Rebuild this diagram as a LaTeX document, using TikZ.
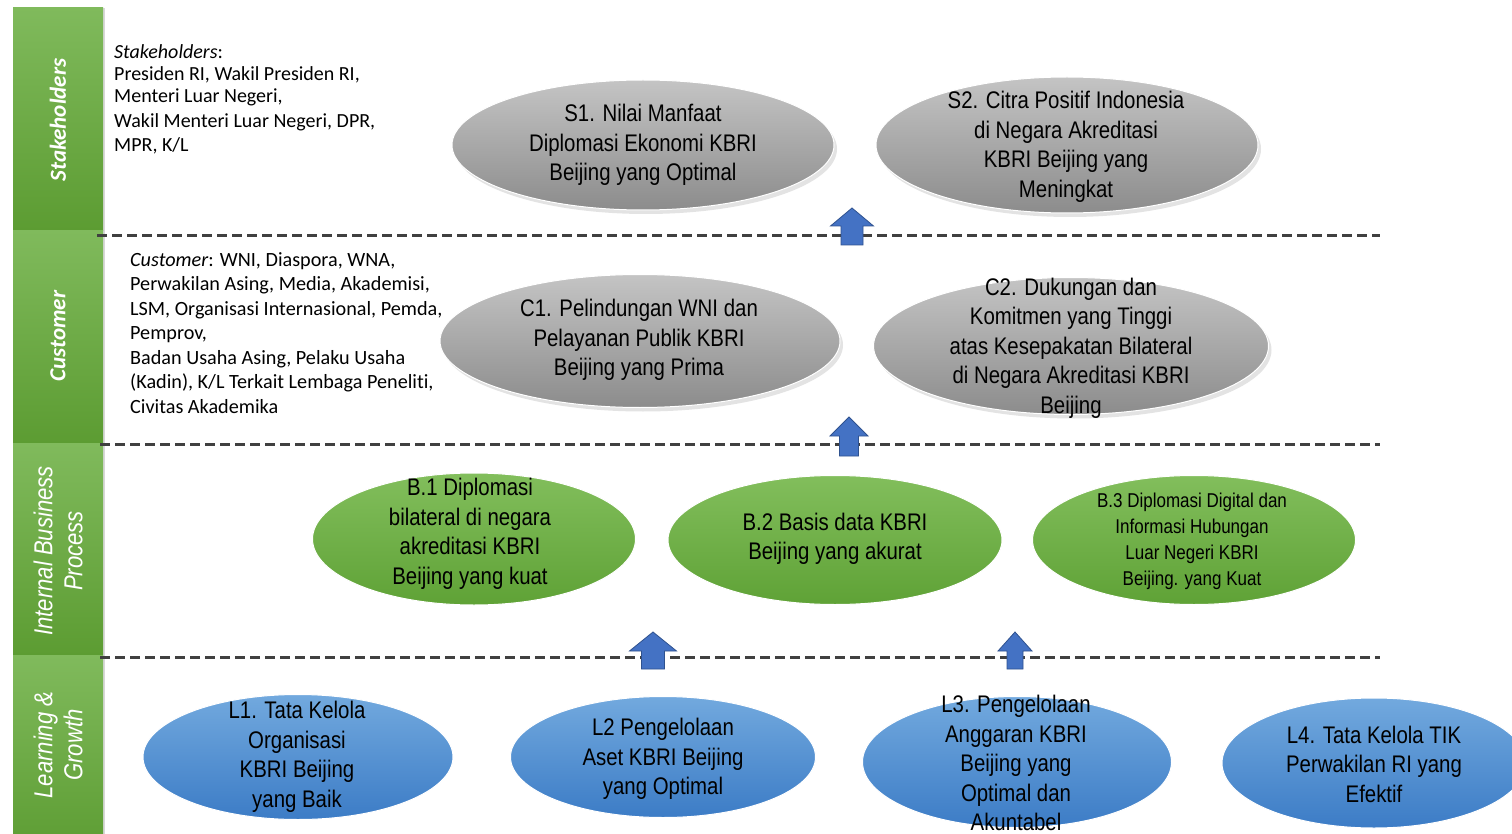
\documentclass[tikz,border=0pt]{standalone}
\usepackage{fontspec}
\setmainfont{Liberation Sans}
\newfontfamily\narrowf[FakeStretch=0.85]{Liberation Sans}
\newfontfamily\calib[Ligatures=NoCommon]{Carlito}
\usetikzlibrary{shapes.geometric,shadows}
\definecolor{bandTop}{HTML}{80BA5C}
\definecolor{bandBot}{HTML}{5C9C32}
\definecolor{grayTop}{HTML}{C4C4C4}
\definecolor{grayBot}{HTML}{8C8C8C}
\definecolor{greenTop}{HTML}{82BE5C}
\definecolor{greenBot}{HTML}{5FA236}
\definecolor{blueTop}{HTML}{72A9DE}
\definecolor{blueBot}{HTML}{3C7CC6}
\definecolor{dashcol}{HTML}{404040}
\definecolor{arrowFill}{HTML}{4472C4}
\definecolor{arrowLine}{HTML}{2F528F}
\newcommand\blockup[6]{%
  \path[blockarrow] (#1,#2) -- ++(#3,#4) -- (#1+#5,#2+#4) -- (#1+#5,#2+#6)
    -- (#1-#5,#2+#6) -- (#1-#5,#2+#4) -- (#1-#3,#2+#4) -- cycle;}
\begin{document}
\begin{tikzpicture}[x=1pt,y=-1pt,
  band/.style={rectangle, inner sep=0pt, anchor=north west, minimum width=90pt,
    top color=bandTop, bottom color=bandBot,
    drop shadow={opacity=0.3, shadow xshift=2pt, shadow yshift=-1pt}},
  bandtext/.style={rotate=90, text=white, align=center, inner sep=0pt},
  sepline/.style={line width=3pt, draw=dashcol, dash pattern=on 10pt off 5pt},
  goal/.style={ellipse, inner sep=0pt, draw=white, line width=1pt},
  goalG/.style={goal, top color=grayTop, bottom color=grayBot,
    drop shadow={opacity=0.22, shadow xshift=3pt, shadow yshift=-4pt}},
  goalGr/.style={goal, top color=greenTop, bottom color=greenBot},
  goalB/.style={goal, top color=blueTop, bottom color=blueBot},
  etext/.style={font=\narrowf\fontsize{24}{29.5}\selectfont, align=center, inner sep=0pt},
  stext/.style={font=\narrowf\fontsize{20}{26}\selectfont, align=center, inner sep=0pt},
  ltext/.style={font=\calib\fontsize{20}{22}\selectfont, align=left, inner sep=0pt, anchor=west},
  blockarrow/.style={fill=arrowFill, draw=arrowLine, line width=0.8pt}]
\useasboundingbox (0,0) rectangle (1512,834);
\clip (0,0) rectangle (1512,834);
\fill[white] (0,0) rectangle (1512,834);

% side bands
\node[band, minimum height=223pt] (sb1) at (13,7) {};
\node[band, minimum height=213pt] (sb2) at (13,230) {};
\node[band, minimum height=212pt] (sb3) at (13,443) {};
\node[band, minimum height=200pt] (sb4) at (13,655) {};
\node[bandtext, font=\calib\bfseries\itshape\fontsize{23}{26}\selectfont] (lb1) at (58,120) {Stakeholders};
\node[bandtext, font=\calib\bfseries\itshape\fontsize{23}{26}\selectfont] (lb2) at (58,336) {Customer};
\node[bandtext, font=\narrowf\itshape\fontsize{26}{30}\selectfont] (lb3) at (58,551) {Internal Business\\Process};
\node[bandtext, font=\narrowf\itshape\fontsize{26}{30}\selectfont] (lb4) at (58,745) {Learning \&\\Growth};

% separators
\draw[sepline] (97,236) -- (1380,236);
\draw[sepline] (100,444) -- (1380,444);
\draw[sepline] (100,657) -- (1380,657);

% left descriptions
\node[ltext] (st) at (114,99) {\textit{Stakeholders}:\\Presiden RI, Wakil Presiden RI,\\Menteri Luar Negeri,\\[3pt]Wakil Menteri Luar Negeri, DPR,\\[2pt]MPR, K/L};
\node[ltext, font=\calib\fontsize{20.2}{24.5}\selectfont] (ct) at (130,333) {\textit{Customer}: WNI, Diaspora, WNA,\\Perwakilan Asing, Media, Akademisi,\\LSM, Organisasi Internasional, Pemda,\\Pemprov,\\Badan Usaha Asing, Pelaku Usaha\\(Kadin), K/L Terkait Lembaga Peneliti,\\Civitas Akademika};

% stakeholder goals
\node[goalG, minimum width=382pt, minimum height=130pt] (s1) at (643,145) {};
\node[etext] (s1t) at (643,145) {S1. Nilai Manfaat\\Diplomasi Ekonomi KBRI\\Beijing yang Optimal};
\node[goalG, minimum width=382pt, minimum height=136pt] (s2) at (1067,145) {};
\node[etext] (s2t) at (1066,147) {S2. Citra Positif Indonesia\\di Negara Akreditasi\\KBRI Beijing yang\\Meningkat};

% customer goals
\node[goalG, minimum width=400pt, minimum height=133pt] (c1) at (640,341) {};
\node[etext] (c1t) at (639,340) {C1. Pelindungan WNI dan\\Pelayanan Publik KBRI\\Beijing yang Prima};
\node[goalG, minimum width=395pt, minimum height=137pt] (c2) at (1071,346) {};
\node[etext] (c2t) at (1071,348) {C2. Dukungan dan\\Komitmen yang Tinggi\\atas Kesepakatan Bilateral\\di Negara Akreditasi KBRI\\Beijing};

% internal business process goals
\node[goalGr, minimum width=323pt, minimum height=132pt] (b1) at (474,539) {};
\node[etext] (b1t) at (470,534) {B.1 Diplomasi\\bilateral di negara\\akreditasi KBRI\\Beijing yang kuat};
\node[goalGr, minimum width=334pt, minimum height=129pt] (b2) at (835,540) {};
\node[etext] (b2t) at (835,539) {B.2 Basis data KBRI\\Beijing yang akurat};
\node[goalGr, minimum width=323pt, minimum height=129pt] (b3) at (1194,540) {};
\node[stext] (b3t) at (1192,541) {B.3 Diplomasi Digital dan\\Informasi Hubungan\\Luar Negeri KBRI\\Beijing. yang Kuat};

% learning & growth goals
\node[goalB, minimum width=310pt, minimum height=125pt] (l1) at (298,757) {};
\node[etext] (l1t) at (297,757) {L1. Tata Kelola\\Organisasi\\KBRI Beijing\\yang Baik};
\node[goalB, minimum width=305pt, minimum height=121pt] (l2) at (663,757) {};
\node[etext] (l2t) at (663,759) {L2 Pengelolaan\\Aset KBRI Beijing\\yang Optimal};
\node[goalB, minimum width=309pt, minimum height=131pt] (l3) at (1017,762) {};
\node[etext] (l3t) at (1016,763) {L3. Pengelolaan\\Anggaran KBRI\\Beijing yang\\Optimal dan\\Akuntabel};
\node[goalB, minimum width=304pt, minimum height=130pt] (l4) at (1374,763) {};
\node[etext] (l4t) at (1374,764) {L4. Tata Kelola TIK\\Perwakilan RI yang\\Efektif};

% block arrows
\blockup{852}{208}{21.5}{18}{11}{37}
\blockup{849}{417}{19}{19}{9.5}{39}
\blockup{653}{632}{23.5}{19}{11.5}{37}
\blockup{1015}{632}{17}{19}{8}{37}
\end{tikzpicture}
\end{document}
